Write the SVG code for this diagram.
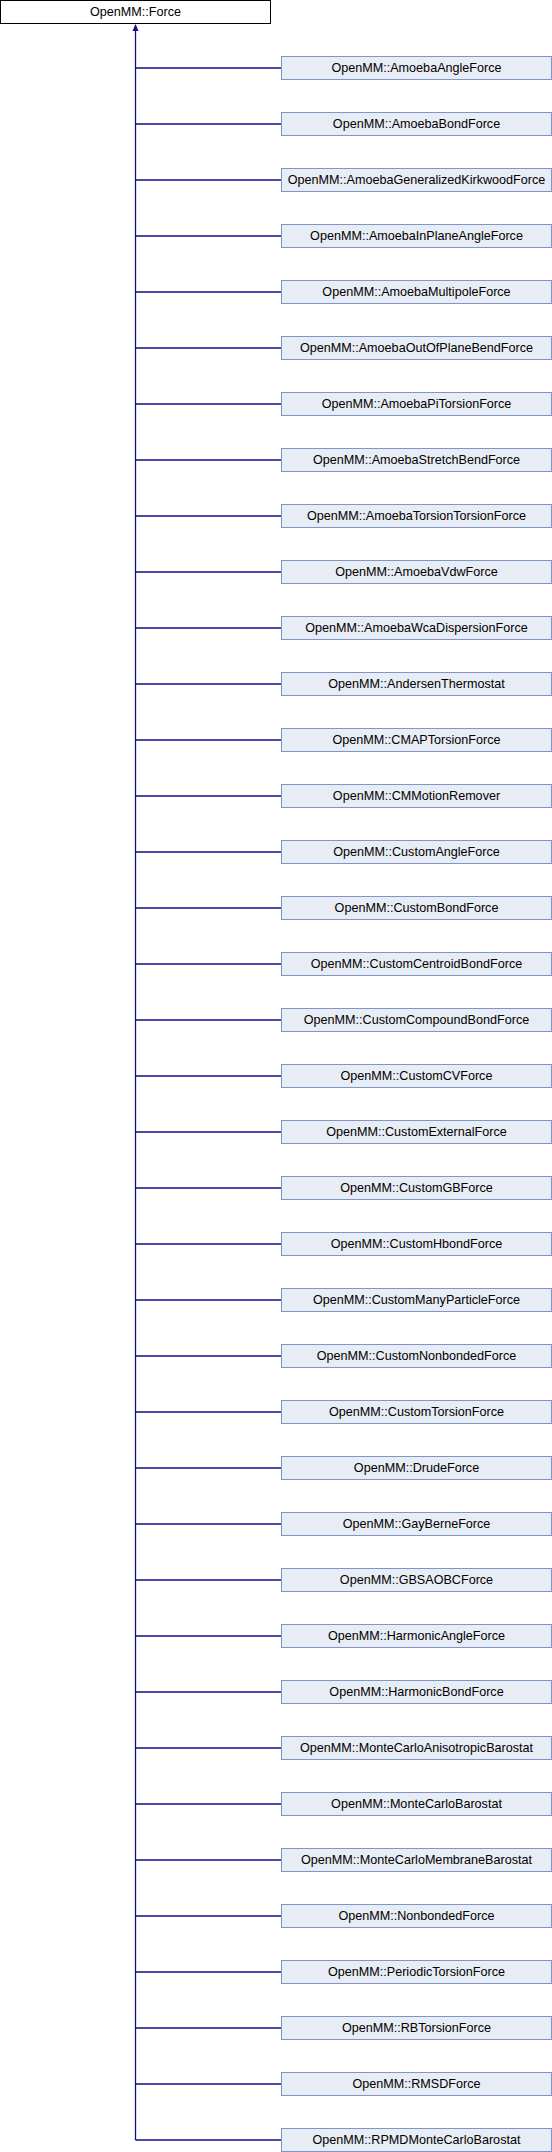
<svg xmlns="http://www.w3.org/2000/svg" width="552" height="2152" viewBox="0 0 552 2152">
<style>
.n rect{fill:#E8ECF5;stroke:#7E96CA;stroke-width:1}
.root rect{fill:#FFFFFF;stroke:#000000;stroke-width:1}
text{font-family:"Liberation Sans",Arial,sans-serif;font-size:12.6px;fill:#000;text-anchor:middle}
.c{stroke:#10108A;stroke-width:1.3;fill:none}
.ah{fill:#10108A;stroke:none}
</style>
<g id="connectors">
<path class="c" d="M135.5,2140 V28"/>
<path class="ah" d="M135.5,24 L138.5,31 L132.5,31 Z"/>
<path class="c" d="M135.5,68H281M135.5,124H281M135.5,180H281M135.5,236H281M135.5,292H281M135.5,348H281M135.5,404H281M135.5,460H281M135.5,516H281M135.5,572H281M135.5,628H281M135.5,684H281M135.5,740H281M135.5,796H281M135.5,852H281M135.5,908H281M135.5,964H281M135.5,1020H281M135.5,1076H281M135.5,1132H281M135.5,1188H281M135.5,1244H281M135.5,1300H281M135.5,1356H281M135.5,1412H281M135.5,1468H281M135.5,1524H281M135.5,1580H281M135.5,1636H281M135.5,1692H281M135.5,1748H281M135.5,1804H281M135.5,1860H281M135.5,1916H281M135.5,1972H281M135.5,2028H281M135.5,2084H281M135.5,2140H281"/>
</g>
<g id="force" class="root"><rect x="0.5" y="0.5" width="270" height="23"/><text x="135.5" y="15.5">OpenMM::Force</text></g>
<g id="n0" class="n"><rect x="281.5" y="56.5" width="270" height="23"/><text x="416.5" y="72">OpenMM::AmoebaAngleForce</text></g>
<g id="n1" class="n"><rect x="281.5" y="112.5" width="270" height="23"/><text x="416.5" y="128">OpenMM::AmoebaBondForce</text></g>
<g id="n2" class="n"><rect x="281.5" y="168.5" width="270" height="23"/><text x="416.5" y="184">OpenMM::AmoebaGeneralizedKirkwoodForce</text></g>
<g id="n3" class="n"><rect x="281.5" y="224.5" width="270" height="23"/><text x="416.5" y="240">OpenMM::AmoebaInPlaneAngleForce</text></g>
<g id="n4" class="n"><rect x="281.5" y="280.5" width="270" height="23"/><text x="416.5" y="296">OpenMM::AmoebaMultipoleForce</text></g>
<g id="n5" class="n"><rect x="281.5" y="336.5" width="270" height="23"/><text x="416.5" y="352">OpenMM::AmoebaOutOfPlaneBendForce</text></g>
<g id="n6" class="n"><rect x="281.5" y="392.5" width="270" height="23"/><text x="416.5" y="408">OpenMM::AmoebaPiTorsionForce</text></g>
<g id="n7" class="n"><rect x="281.5" y="448.5" width="270" height="23"/><text x="416.5" y="464">OpenMM::AmoebaStretchBendForce</text></g>
<g id="n8" class="n"><rect x="281.5" y="504.5" width="270" height="23"/><text x="416.5" y="520">OpenMM::AmoebaTorsionTorsionForce</text></g>
<g id="n9" class="n"><rect x="281.5" y="560.5" width="270" height="23"/><text x="416.5" y="576">OpenMM::AmoebaVdwForce</text></g>
<g id="n10" class="n"><rect x="281.5" y="616.5" width="270" height="23"/><text x="416.5" y="632">OpenMM::AmoebaWcaDispersionForce</text></g>
<g id="n11" class="n"><rect x="281.5" y="672.5" width="270" height="23"/><text x="416.5" y="688">OpenMM::AndersenThermostat</text></g>
<g id="n12" class="n"><rect x="281.5" y="728.5" width="270" height="23"/><text x="416.5" y="744">OpenMM::CMAPTorsionForce</text></g>
<g id="n13" class="n"><rect x="281.5" y="784.5" width="270" height="23"/><text x="416.5" y="800">OpenMM::CMMotionRemover</text></g>
<g id="n14" class="n"><rect x="281.5" y="840.5" width="270" height="23"/><text x="416.5" y="856">OpenMM::CustomAngleForce</text></g>
<g id="n15" class="n"><rect x="281.5" y="896.5" width="270" height="23"/><text x="416.5" y="912">OpenMM::CustomBondForce</text></g>
<g id="n16" class="n"><rect x="281.5" y="952.5" width="270" height="23"/><text x="416.5" y="968">OpenMM::CustomCentroidBondForce</text></g>
<g id="n17" class="n"><rect x="281.5" y="1008.5" width="270" height="23"/><text x="416.5" y="1024">OpenMM::CustomCompoundBondForce</text></g>
<g id="n18" class="n"><rect x="281.5" y="1064.5" width="270" height="23"/><text x="416.5" y="1080">OpenMM::CustomCVForce</text></g>
<g id="n19" class="n"><rect x="281.5" y="1120.5" width="270" height="23"/><text x="416.5" y="1136">OpenMM::CustomExternalForce</text></g>
<g id="n20" class="n"><rect x="281.5" y="1176.5" width="270" height="23"/><text x="416.5" y="1192">OpenMM::CustomGBForce</text></g>
<g id="n21" class="n"><rect x="281.5" y="1232.5" width="270" height="23"/><text x="416.5" y="1248">OpenMM::CustomHbondForce</text></g>
<g id="n22" class="n"><rect x="281.5" y="1288.5" width="270" height="23"/><text x="416.5" y="1304">OpenMM::CustomManyParticleForce</text></g>
<g id="n23" class="n"><rect x="281.5" y="1344.5" width="270" height="23"/><text x="416.5" y="1360">OpenMM::CustomNonbondedForce</text></g>
<g id="n24" class="n"><rect x="281.5" y="1400.5" width="270" height="23"/><text x="416.5" y="1416">OpenMM::CustomTorsionForce</text></g>
<g id="n25" class="n"><rect x="281.5" y="1456.5" width="270" height="23"/><text x="416.5" y="1472">OpenMM::DrudeForce</text></g>
<g id="n26" class="n"><rect x="281.5" y="1512.5" width="270" height="23"/><text x="416.5" y="1528">OpenMM::GayBerneForce</text></g>
<g id="n27" class="n"><rect x="281.5" y="1568.5" width="270" height="23"/><text x="416.5" y="1584">OpenMM::GBSAOBCForce</text></g>
<g id="n28" class="n"><rect x="281.5" y="1624.5" width="270" height="23"/><text x="416.5" y="1640">OpenMM::HarmonicAngleForce</text></g>
<g id="n29" class="n"><rect x="281.5" y="1680.5" width="270" height="23"/><text x="416.5" y="1696">OpenMM::HarmonicBondForce</text></g>
<g id="n30" class="n"><rect x="281.5" y="1736.5" width="270" height="23"/><text x="416.5" y="1752">OpenMM::MonteCarloAnisotropicBarostat</text></g>
<g id="n31" class="n"><rect x="281.5" y="1792.5" width="270" height="23"/><text x="416.5" y="1808">OpenMM::MonteCarloBarostat</text></g>
<g id="n32" class="n"><rect x="281.5" y="1848.5" width="270" height="23"/><text x="416.5" y="1864">OpenMM::MonteCarloMembraneBarostat</text></g>
<g id="n33" class="n"><rect x="281.5" y="1904.5" width="270" height="23"/><text x="416.5" y="1920">OpenMM::NonbondedForce</text></g>
<g id="n34" class="n"><rect x="281.5" y="1960.5" width="270" height="23"/><text x="416.5" y="1976">OpenMM::PeriodicTorsionForce</text></g>
<g id="n35" class="n"><rect x="281.5" y="2016.5" width="270" height="23"/><text x="416.5" y="2032">OpenMM::RBTorsionForce</text></g>
<g id="n36" class="n"><rect x="281.5" y="2072.5" width="270" height="23"/><text x="416.5" y="2088">OpenMM::RMSDForce</text></g>
<g id="n37" class="n"><rect x="281.5" y="2128.5" width="270" height="23"/><text x="416.5" y="2144">OpenMM::RPMDMonteCarloBarostat</text></g>
</svg>
